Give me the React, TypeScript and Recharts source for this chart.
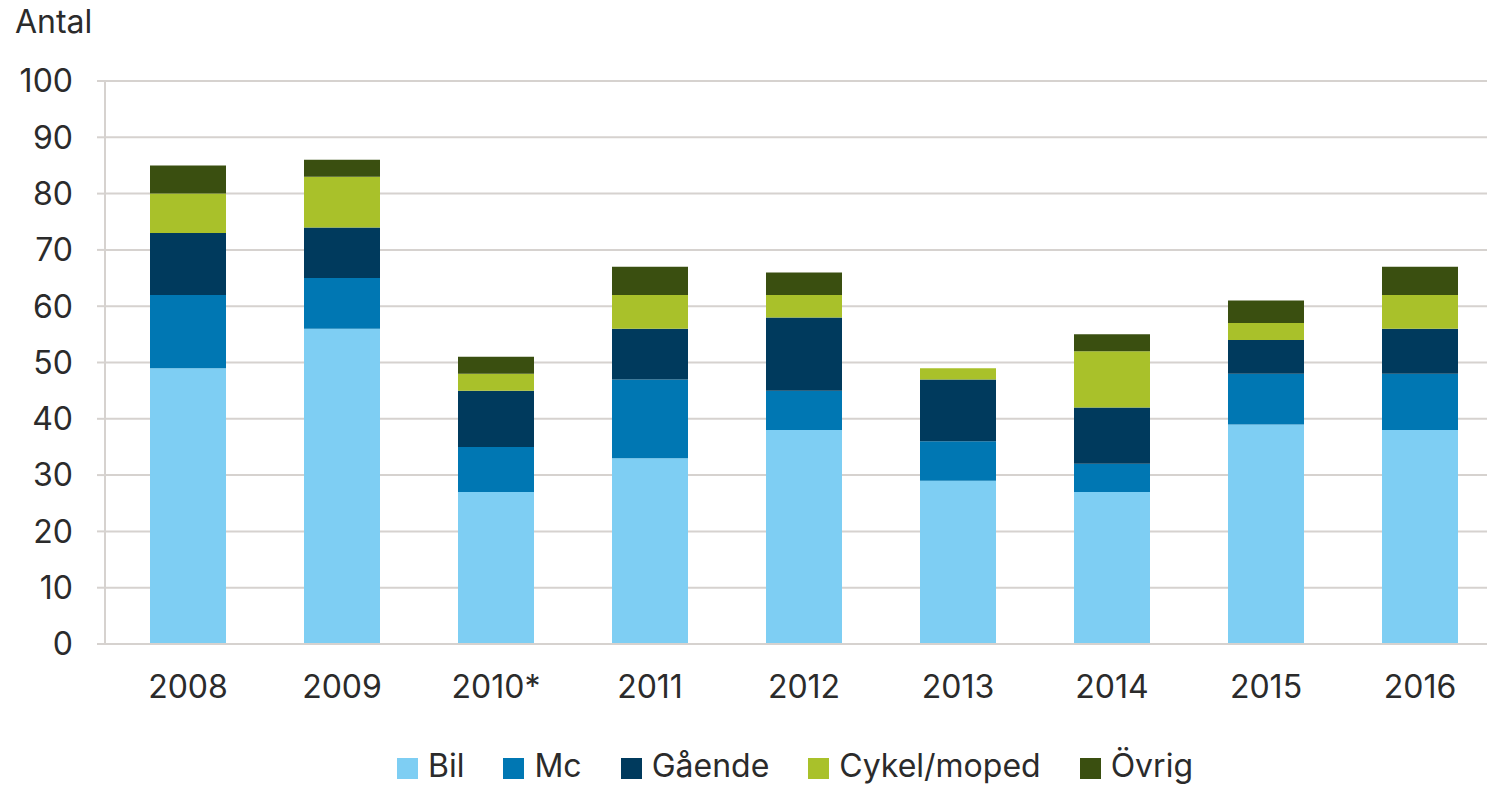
import React from "react";
import { BarChart, Bar, XAxis, YAxis, CartesianGrid } from "recharts";

const years = ["2008", "2009", "2010*", "2011", "2012", "2013", "2014", "2015", "2016"];
const bil = [49, 56, 27, 33, 38, 29, 27, 39, 38];
const mc = [13, 9, 8, 14, 7, 7, 5, 9, 10];
const gaende = [11, 9, 10, 9, 13, 11, 10, 6, 8];
const cykel = [7, 9, 3, 6, 4, 2, 10, 3, 6];
const ovrig = [5, 3, 3, 5, 4, 0, 3, 4, 5];
const yTicks = [0, 10, 20, 30, 40, 50, 60, 70, 80, 90, 100];

const seriesNames = ["Bil", "Mc", "Gående", "Cykel/moped", "Övrig"];
const seriesKeys = ["bil", "mc", "gaende", "cykel", "ovrig"];
const colors = ["#7ecef3", "#0077b3", "#003a5d", "#a9c12a", "#3a4f10"];

const data = years.map((y, i) => ({
  year: y,
  bil: bil[i],
  mc: mc[i],
  gaende: gaende[i],
  cykel: cykel[i],
  ovrig: ovrig[i],
}));

const FONT = "Inter, Lato, sans-serif";
const TEXT = "#2b2b2b";
const GRID = "#d6d2cf";
const FS = 32;

export default function App() {
  return (
    <div
      style={{
        position: "absolute",
        left: 0,
        top: 0,
        width: 1487,
        height: 786,
        overflow: "hidden",
        background: "#fff",
        fontFamily: FONT,
      }}
    >
      <div
        style={{
          position: "absolute",
          left: 15,
          top: 6,
          fontSize: FS,
          lineHeight: "32px",
          color: TEXT,
        }}
      >
        Antal
      </div>
      <div style={{ position: "absolute", left: 0, top: 0 }}>
        <BarChart
          width={1500}
          height={710}
          data={data}
          margin={{ top: 81, right: 3, bottom: 6, left: 15 }}
        >
          <CartesianGrid vertical={false} stroke={GRID} strokeWidth={2} />
          <XAxis
            dataKey="year"
            padding={{ left: 6, right: 0 }}
            tickLine={false}
            axisLine={{ stroke: GRID, strokeWidth: 2 }}
            tickSize={0}
            tickMargin={31}
            height={60}
            tick={{ fill: TEXT, fontSize: FS, fontFamily: FONT }}
            interval={0}
          />
          <YAxis
            domain={[0, 100]}
            ticks={yTicks}
            width={90}
            tickSize={8}
            tickMargin={24}
            tickLine={{ stroke: GRID, strokeWidth: 2 }}
            axisLine={{ stroke: GRID, strokeWidth: 2 }}
            tick={{ fill: TEXT, fontSize: FS, fontFamily: FONT }}
            interval={0}
          />
          {seriesKeys.map((k, i) => (
            <Bar
              key={k}
              dataKey={k}
              name={seriesNames[i]}
              stackId="a"
              fill={colors[i]}
              barSize={76}
              isAnimationActive={false}
            />
          ))}
        </BarChart>
      </div>
      <div
        style={{
          position: "absolute",
          left: 397,
          top: 750,
          display: "flex",
          alignItems: "center",
          fontSize: FS,
          lineHeight: "32px",
          color: TEXT,
        }}
      >
        {seriesNames.map((n, i) => (
          <div key={n} style={{ display: "flex", alignItems: "center", marginRight: 39 }}>
            <div
              style={{
                width: 21,
                height: 21,
                background: colors[i],
                marginRight: 10,
                marginTop: 4,
              }}
            />
            <span style={{ whiteSpace: "nowrap" }}>{n}</span>
          </div>
        ))}
      </div>
    </div>
  );
}
